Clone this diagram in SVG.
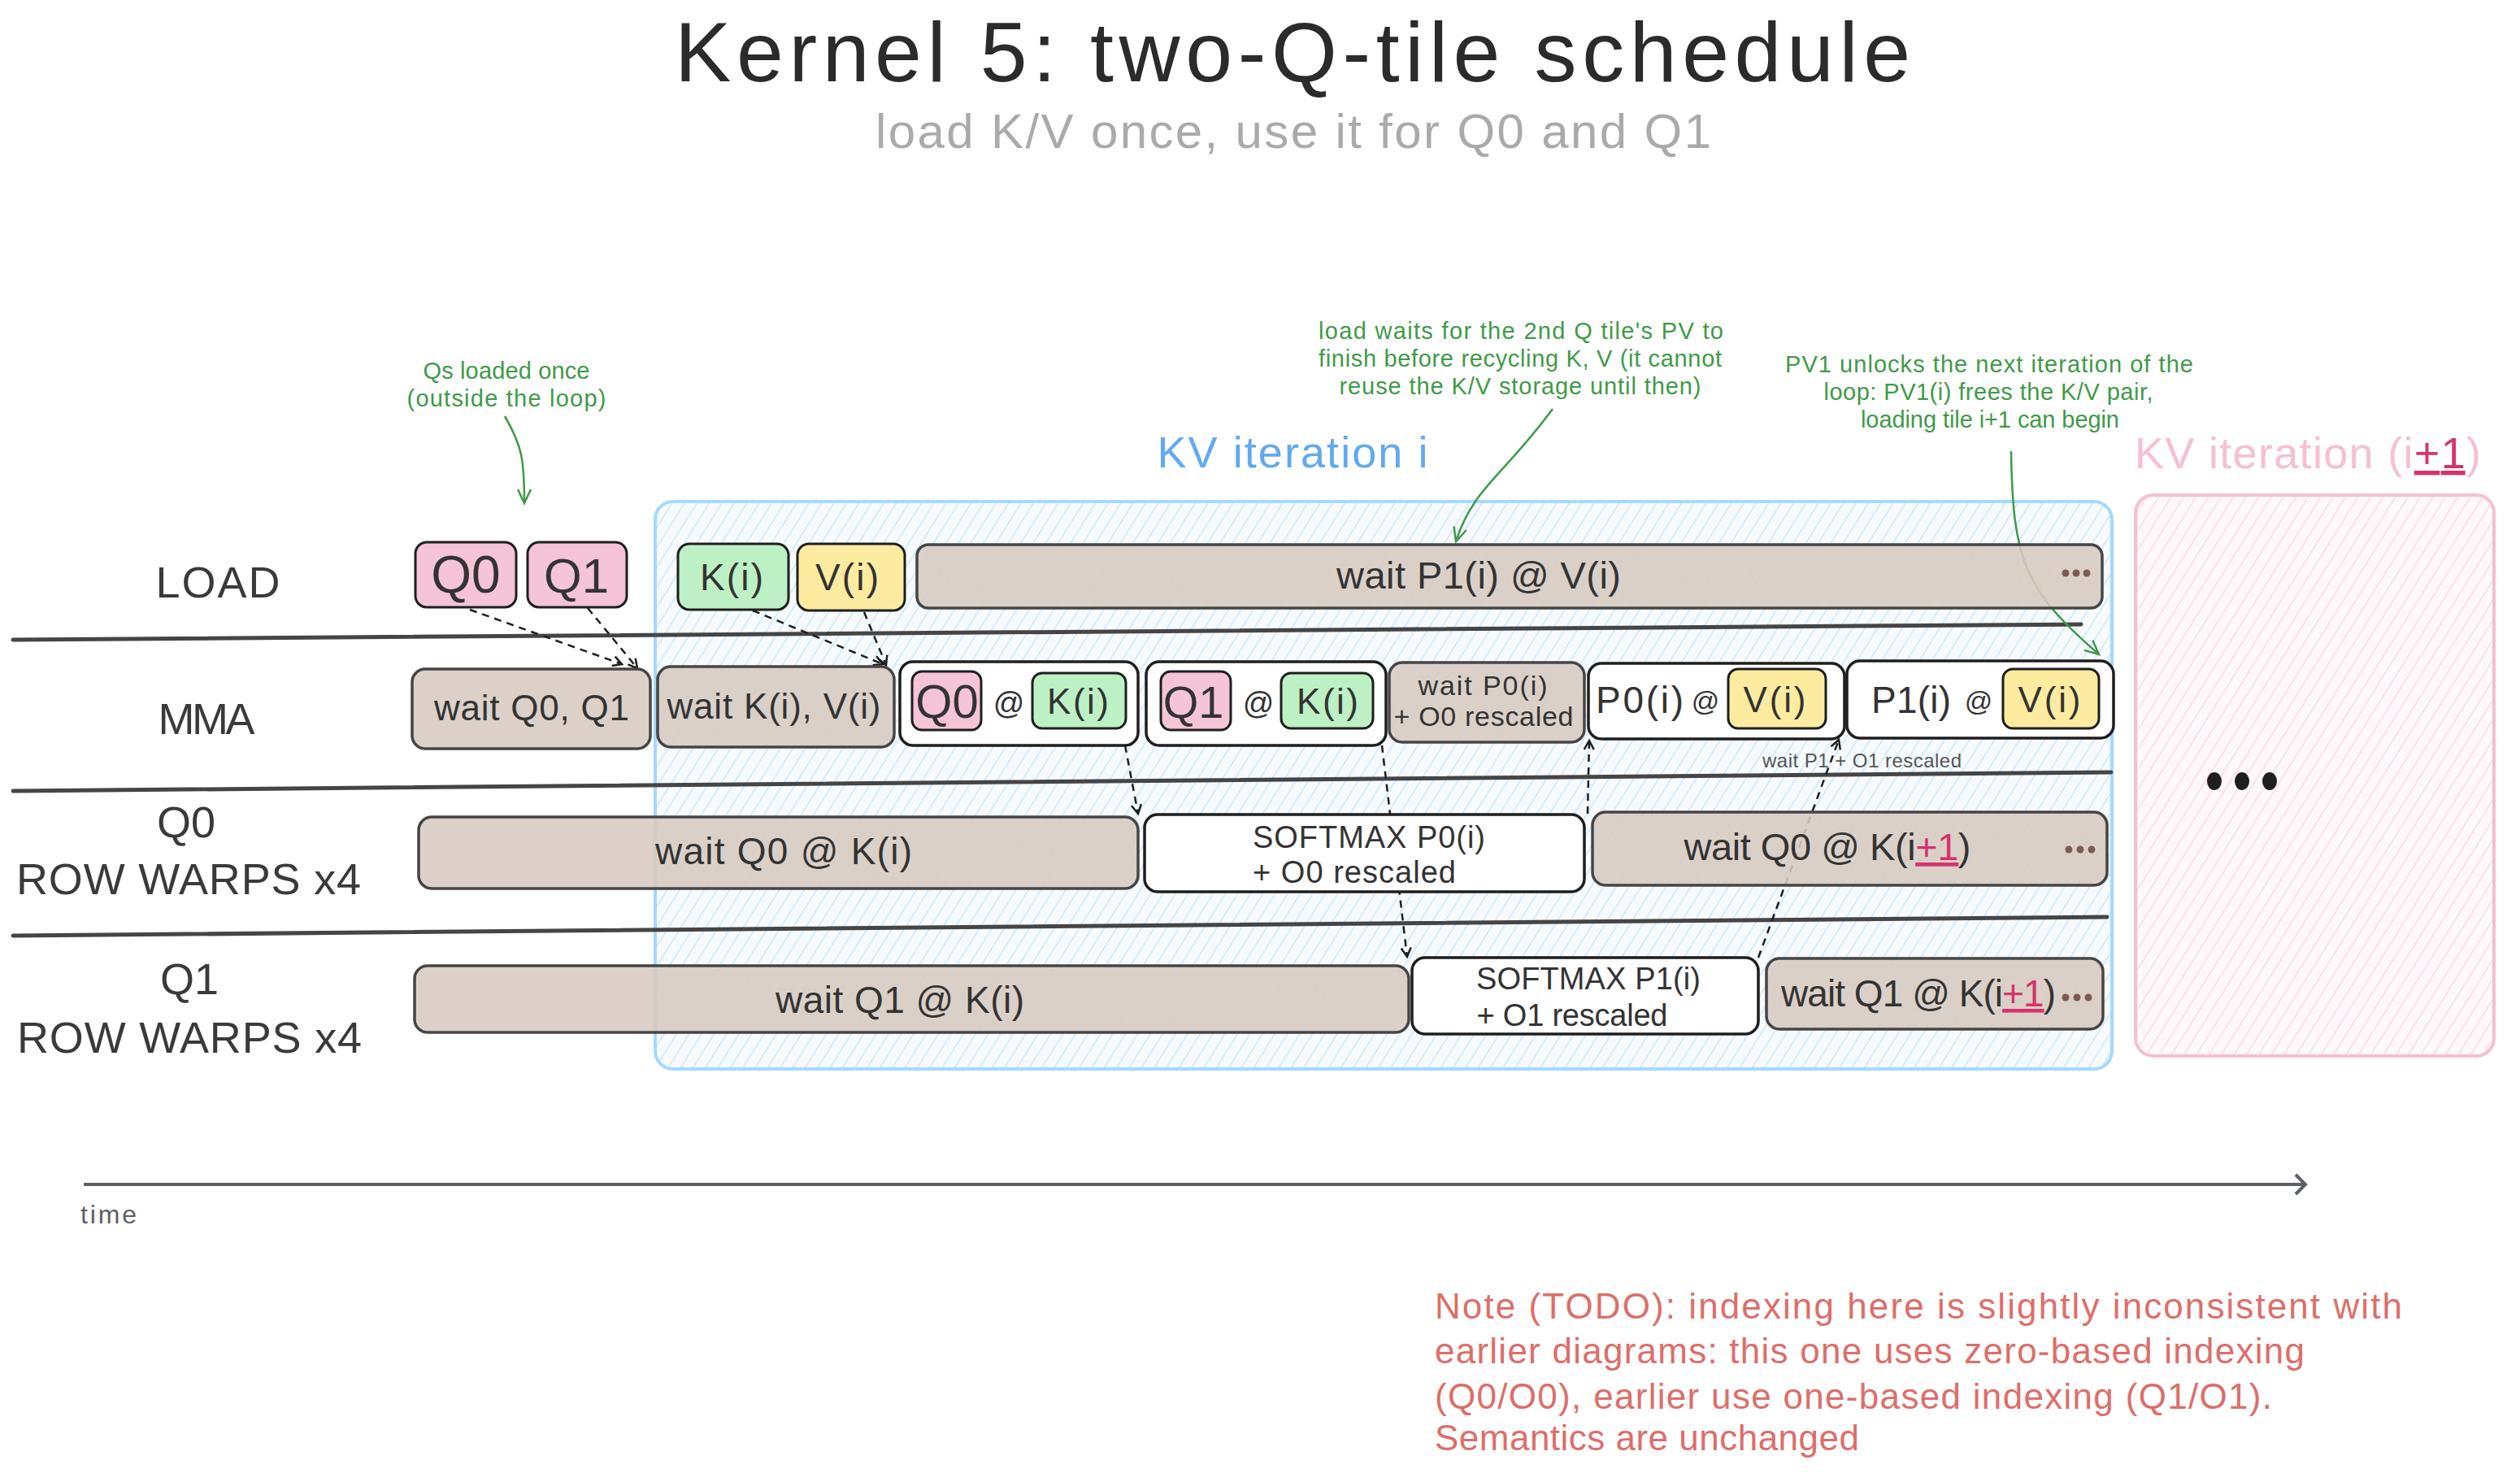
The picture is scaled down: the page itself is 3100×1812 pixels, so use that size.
<svg xmlns="http://www.w3.org/2000/svg" width="3100" height="1812" viewBox="0 0 3100 1812">
<defs>
<style>
text{font-family:"Liberation Sans",Arial,sans-serif;}
.ttl{font-size:104px;fill:#2b2b2b;text-anchor:middle}
.sub{font-size:60px;fill:#aaaaaa;text-anchor:middle}
.lane{font-size:54px;fill:#3a3a3a;text-anchor:middle}
.t{fill:#333;text-anchor:middle}
.tan{fill:#d7c9c0;fill-opacity:.88;stroke:#454545;stroke-width:3.5}
.wb{fill:#fff;stroke:#1e1e1e;stroke-width:3.5}
.pk{fill:#f5c4d7;stroke:#1e1e1e;stroke-width:3}
.gr{fill:#bdf0c4;stroke:#1e1e1e;stroke-width:3}
.yl{fill:#fdeca0;stroke:#1e1e1e;stroke-width:3}
.sep{stroke:#454545;stroke-width:5;fill:none;stroke-linecap:round}
.dash{stroke:#1e1e1e;stroke-width:2.5;fill:none;stroke-dasharray:9 7;marker-end:url(#ah)}
.gar{stroke:#3f9a48;stroke-width:2.5;fill:none;marker-end:url(#gah)}
.ann{font-size:29px;fill:#3f9a48;text-anchor:middle}
.note{font-size:44px;fill:#dd6e6a}
.dot{fill:#7a5c52}
.red{fill:#d6336c}
</style>
<pattern id="hb" patternUnits="userSpaceOnUse" width="13" height="40" patternTransform="rotate(32)">
<rect width="13" height="40" fill="#f7fbff"/>
<line x1="2" y1="0" x2="2" y2="40" stroke="#c8e4fb" stroke-width="1.4"/>
</pattern>
<pattern id="hp" patternUnits="userSpaceOnUse" width="13" height="40" patternTransform="rotate(32)">
<rect width="13" height="40" fill="#fff9fb"/>
<line x1="2" y1="0" x2="2" y2="40" stroke="#f7d9e3" stroke-width="1.4"/>
</pattern>
<marker id="ah" markerWidth="16" markerHeight="16" refX="13" refY="8" orient="auto" markerUnits="userSpaceOnUse">
<path d="M2,2 L13,8 L2,14" fill="none" stroke="#1e1e1e" stroke-width="2.5"/>
</marker>
<marker id="gah" markerWidth="22" markerHeight="22" refX="19" refY="11" orient="auto" markerUnits="userSpaceOnUse">
<path d="M2,3 L19,11 L2,19" fill="none" stroke="#3f9a48" stroke-width="2.5"/>
</marker>
<marker id="tah" markerWidth="22" markerHeight="30" refX="18" refY="15" orient="auto" markerUnits="userSpaceOnUse">
<path d="M6,3 L18,15 L6,27" fill="none" stroke="#5c6066" stroke-width="4"/>
</marker>
</defs>
<rect width="3100" height="1812" fill="#ffffff"/>

<g id="title">
<text class="ttl" x="1590" y="100" textLength="1520">Kernel 5: two-Q-tile schedule</text>
<text class="sub" x="1591" y="182" textLength="1028">load K/V once, use it for Q0 and Q1</text>
</g>

<g id="kv-iter-i">
<rect x="806" y="617" width="1792" height="698" rx="22" fill="url(#hb)" stroke="#a5d8ff" stroke-width="4"/>
<text x="1590" y="575" font-size="54" fill="#62a9f0" text-anchor="middle" textLength="333">KV iteration i</text>
</g>
<g id="kv-iter-next">
<rect x="2627" y="609" width="441" height="690" rx="22" fill="url(#hp)" stroke="#f3c0d1" stroke-width="4"/>
<text x="2626" y="576" font-size="54" fill="#f4c0d2" textLength="426">KV iteration (i<tspan class="red" text-decoration="underline">+1</tspan>)</text>
<ellipse cx="2724" cy="961" rx="9" ry="11" fill="#1e1e1e"/>
<ellipse cx="2758" cy="961" rx="9" ry="11" fill="#1e1e1e"/>
<ellipse cx="2792" cy="961" rx="9" ry="11" fill="#1e1e1e"/>
</g>

<g id="lanes">
<path class="sep" d="M16,787 L2560,768"/>
<path class="sep" d="M16,973 L2597,950"/>
<path class="sep" d="M16,1151 L2592,1128"/>
<text class="lane" x="268" y="735" textLength="153">LOAD</text>
<text class="lane" x="254" y="903" textLength="119">MMA</text>
<text class="lane" x="229" y="1030">Q0</text>
<text class="lane" x="232" y="1100" textLength="424">ROW WARPS x4</text>
<text class="lane" x="233" y="1223">Q1</text>
<text class="lane" x="233" y="1295" textLength="424">ROW WARPS x4</text>
</g>

<g id="connectors">
<path class="dash" d="M578,750 L765,817"/>
<path class="dash" d="M723,748 L784,822"/>
<path class="dash" d="M926,751 L1086,817"/>
<path class="dash" d="M1063,753 L1090,818"/>
<path class="dash" d="M1384,917 L1400,1001"/>
<path class="dash" d="M1700,917 L1731,1177"/>
<path class="dash" d="M1953,1001 L1955,911"/>
<path class="dash" d="M2163,1178 L2262,910"/>
<path class="gar" d="M621,512 C642,548 645,565 645,619"/>
<path class="gar" d="M1910,503 C1850,585 1812,600 1791,666"/>
<path class="gar" d="M2474,555 C2476,690 2490,725 2582,805"/>
<path d="M103,1457 L2836,1457" stroke="#5c6066" stroke-width="4" fill="none" marker-end="url(#tah)"/>
</g>

<g id="ann-qs">
<text class="ann" x="623" y="466" textLength="205">Qs loaded once</text>
<text class="ann" x="623" y="500" textLength="245">(outside the loop)</text>
</g>
<g id="ann-load">
<text class="ann" x="1871" y="417" textLength="498">load waits for the 2nd Q tile's PV to</text>
<text class="ann" x="1870" y="451" textLength="496">finish before recycling K, V (it cannot</text>
<text class="ann" x="1870" y="485" textLength="445">reuse the K/V storage until then)</text>
</g>
<g id="ann-pv1">
<text class="ann" x="2447" y="458" textLength="502">PV1 unlocks the next iteration of the</text>
<text class="ann" x="2446" y="492" textLength="405">loop: PV1(i) frees the K/V pair,</text>
<text class="ann" x="2448" y="526" textLength="318">loading tile i+1 can begin</text>
</g>

<g id="load-q0"><rect class="pk" x="511" y="667" width="124" height="80" rx="14"/><text class="t" x="573" y="729" font-size="64">Q0</text></g>
<g id="load-q1"><rect class="pk" x="649" y="667" width="122" height="80" rx="14"/><text class="t" x="709" y="729" font-size="60">Q1</text></g>
<g id="load-k"><rect class="gr" x="834" y="669" width="136" height="81" rx="14"/><text class="t" x="900" y="726" font-size="46" textLength="78">K(i)</text></g>
<g id="load-v"><rect class="yl" x="981" y="669" width="132" height="82" rx="14"/><text class="t" x="1042" y="726" font-size="46" textLength="78">V(i)</text></g>
<g id="load-wait"><rect class="tan" x="1128" y="670" width="1458" height="78" rx="14"/><text class="t" x="1819" y="724" font-size="47" textLength="350">wait P1(i) @ V(i)</text>
<circle class="dot" cx="2541" cy="705" r="4.5"/><circle class="dot" cx="2554" cy="705" r="4.5"/><circle class="dot" cx="2567" cy="705" r="4.5"/></g>

<g id="mma-wait-q"><rect class="tan" x="507" y="823" width="293" height="98" rx="16"/><text class="t" x="654" y="886" font-size="44" textLength="240">wait Q0, Q1</text></g>
<g id="mma-wait-kv"><rect class="tan" x="809" y="820" width="291" height="99" rx="16"/><text class="t" x="952" y="884" font-size="44" textLength="263">wait K(i), V(i)</text></g>
<g id="mma-q0k"><rect class="wb" x="1107" y="814" width="293" height="103" rx="16"/>
<rect class="pk" x="1122" y="826" width="85" height="72" rx="12"/><text class="t" x="1165" y="883" font-size="58">Q0</text>
<text class="t" x="1241" y="878" font-size="38">@</text>
<rect class="gr" x="1270" y="828" width="115" height="68" rx="12"/><text class="t" x="1326" y="878" font-size="44" textLength="76">K(i)</text></g>
<g id="mma-q1k"><rect class="wb" x="1410" y="814" width="295" height="103" rx="16"/>
<rect class="pk" x="1428" y="826" width="86" height="72" rx="12"/><text class="t" x="1468" y="883" font-size="56">Q1</text>
<text class="t" x="1548" y="878" font-size="38">@</text>
<rect class="gr" x="1576" y="828" width="113" height="68" rx="12"/><text class="t" x="1633" y="878" font-size="44" textLength="76">K(i)</text></g>
<g id="mma-wait-p0"><rect class="tan" x="1709" y="815" width="240" height="98" rx="16"/>
<text class="t" x="1824" y="855" font-size="34" textLength="159">wait P0(i)</text><text class="t" x="1825" y="893" font-size="34" textLength="221">+ O0 rescaled</text></g>
<g id="mma-p0v"><rect class="wb" x="1954" y="816" width="315" height="93" rx="16"/>
<text class="t" x="2017" y="877" font-size="46" textLength="108">P0(i)</text><text class="t" x="2098" y="874" font-size="34">@</text>
<rect class="yl" x="2126" y="823" width="120" height="73" rx="12"/><text class="t" x="2183" y="876" font-size="44" textLength="77">V(i)</text></g>
<g id="mma-p1v"><rect class="wb" x="2272" y="813" width="328" height="95" rx="16"/>
<text class="t" x="2351" y="877" font-size="46" textLength="98">P1(i)</text><text class="t" x="2434" y="874" font-size="34">@</text>
<rect class="yl" x="2464" y="823" width="118" height="73" rx="12"/><text class="t" x="2521" y="876" font-size="44" textLength="77">V(i)</text></g>
<g id="mma-note"><text x="2168" y="944" font-size="24" fill="#555" textLength="245">wait P1 + O1 rescaled</text></g>

<g id="q0-wait"><rect class="tan" x="515" y="1005" width="885" height="88" rx="16"/><text class="t" x="964" y="1063" font-size="46" textLength="316">wait Q0 @ K(i)</text></g>
<g id="q0-softmax"><rect class="wb" x="1408" y="1002" width="541" height="95" rx="16"/>
<text class="t" x="1684" y="1043" font-size="38" textLength="286">SOFTMAX P0(i)</text><text class="t" x="1666" y="1086" font-size="38" textLength="250">+ O0 rescaled</text></g>
<g id="q0-wait-next"><rect class="tan" x="1959" y="999" width="633" height="90" rx="16"/>
<text class="t" x="2248" y="1058" font-size="47" textLength="353">wait Q0 @ K(i<tspan class="red" text-decoration="underline">+1</tspan>)</text>
<circle class="dot" cx="2545" cy="1045" r="4.5"/><circle class="dot" cx="2559" cy="1045" r="4.5"/><circle class="dot" cx="2573" cy="1045" r="4.5"/></g>

<g id="q1-wait"><rect class="tan" x="510" y="1188" width="1223" height="82" rx="16"/><text class="t" x="1107" y="1246" font-size="46" textLength="306">wait Q1 @ K(i)</text></g>
<g id="q1-softmax"><rect class="wb" x="1737" y="1178" width="426" height="94" rx="16"/>
<text class="t" x="1954" y="1217" font-size="38" textLength="276">SOFTMAX P1(i)</text><text class="t" x="1934" y="1262" font-size="38" textLength="235">+ O1 rescaled</text></g>
<g id="q1-wait-next"><rect class="tan" x="2173" y="1179" width="414" height="87" rx="16"/>
<text class="t" x="2360" y="1238" font-size="46" textLength="338">wait Q1 @ K(i<tspan class="red" text-decoration="underline">+1</tspan>)</text>
<circle class="dot" cx="2541" cy="1227" r="4.5"/><circle class="dot" cx="2555" cy="1227" r="4.5"/><circle class="dot" cx="2569" cy="1227" r="4.5"/></g>

<g id="time-label"><text x="99" y="1505" font-size="32" fill="#5c6066" textLength="69">time</text></g>

<g id="note">
<text class="note" x="1765" y="1622" textLength="1190">Note (TODO): indexing here is slightly inconsistent with</text>
<text class="note" x="1765" y="1677" textLength="1070">earlier diagrams: this one uses zero-based indexing</text>
<text class="note" x="1765" y="1733" textLength="1030">(Q0/O0), earlier use one-based indexing (Q1/O1).</text>
<text class="note" x="1765" y="1784" textLength="522">Semantics are unchanged</text>
</g>
</svg>
